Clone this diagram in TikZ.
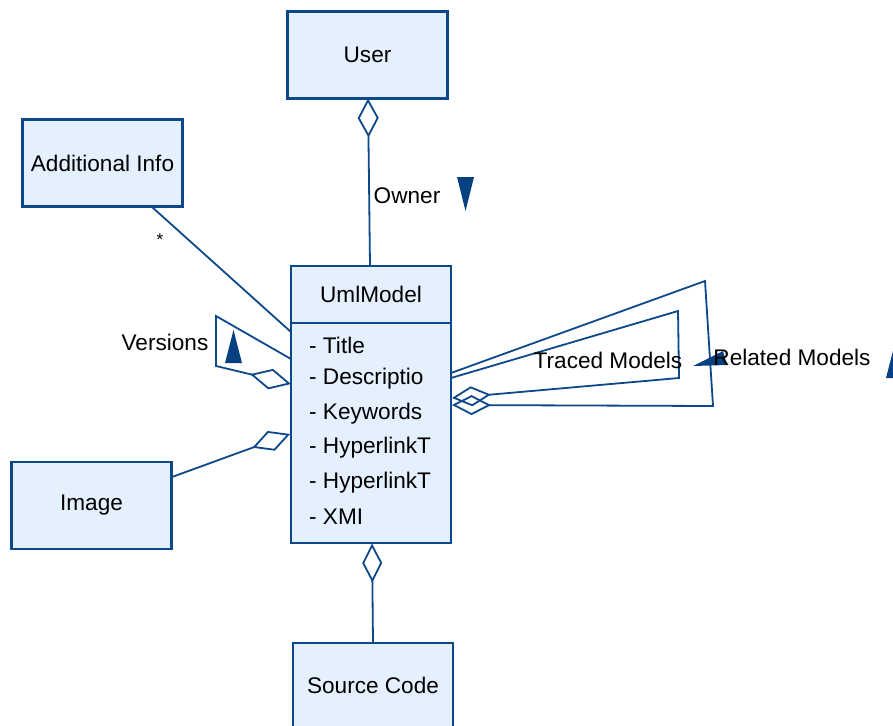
\documentclass[tikz,border=0pt]{standalone}
\usepackage{fontspec}
\setmainfont{Liberation Sans}
\usetikzlibrary{arrows.meta}
\definecolor{umlline}{RGB}{12,72,138}
\definecolor{umlfill}{RGB}{228,240,254}
\definecolor{umltri}{RGB}{6,64,128}
\tikzset{
  classbox/.style={draw=umlline, fill=umlfill, line width=2.2pt, minimum width=160pt,
    minimum height=87pt, inner sep=0pt, font=\fontsize{22.6}{26}\selectfont},
  link/.style={draw=umlline, line width=1.8pt, line join=miter},
  agg/.style={link, {Diamond[open,length=40pt,width=21pt,line width=1.8pt]}-},
  lbl/.style={font=\fontsize{22.6}{26}\selectfont, inner sep=0pt},
  attr/.style={lbl, anchor=west},
  navtri/.style={fill=umltri, draw=none}
}
\begin{document}
\begin{tikzpicture}[x=1pt, y=-1pt]
\useasboundingbox (0,0) rectangle (893,725);
\clip (0,0) rectangle (893,725);

% classes
\node[classbox] (user) at (367.5,55) {User};
\node[classbox] (info) at (102.5,163) {Additional Info};
\node[classbox] (image) at (91.5,505.5) {Image};
\node[classbox, minimum height=90pt] (src) at (373,688) {};
\node[lbl] (srclbl) at (373,685) {Source Code};
\node[classbox, minimum height=277pt] (uml) at (371,404.5) {};
\draw[draw=umlline, line width=2.2pt] (uml.west |- 0,323) -- (uml.east |- 0,323);
\node[lbl] (umltitle) at (371,294) {UmlModel};

% attributes
\node[attr] (a1) at (309,345) {- Title};
\node[attr] (a2) at (309,379) {- Descriptio};
\node[attr] (a3) at (309,413.5) {- Keywords};
\node[attr] (a4) at (309,448) {- HyperlinkT};
\node[attr] (a5) at (309,482.5) {- HyperlinkT};
\node[attr] (a6) at (309,517) {- XMI};

% anchor points on the class borders
\coordinate (userB) at (368,98.5);
\coordinate (umlT) at (370,266);
\coordinate (umlBot) at (372,543.5);
\coordinate (srcT) at (373,643);
\coordinate (infoB) at (152,207);
\coordinate (umlAI) at (291,332);
\coordinate (umlV1) at (291,359);
\coordinate (umlV2) at (291,384);
\coordinate (umlImg) at (290,434);
\coordinate (imgR) at (172,477);
\coordinate (umlR1) at (451,373);
\coordinate (umlR2) at (451,378);
\coordinate (umlR3) at (452,398);
\coordinate (umlR4) at (452,405);

% bends of the self associations
\coordinate (v1) at (216,366);
\coordinate (v2) at (216,316);
\coordinate (t1) at (679,378);
\coordinate (t2) at (678,311);
\coordinate (r1) at (713,406);
\coordinate (r2) at (705,281);

% associations
\draw[agg, {Diamond[open,length=39pt,width=21pt,line width=1.8pt]}-] (userB) -- (umlT);
\draw[agg, {Diamond[open,length=39pt,width=20pt,line width=1.8pt]}-] (umlBot) -- (srcT);
\draw[link] (infoB) -- (umlAI);
\draw[agg] (umlImg) -- (imgR);
\draw[agg, {Diamond[open,length=42pt,width=21pt,line width=1.8pt]}-] (umlV2) -- (v1) -- (v2) -- (umlV1);
\draw[agg, {Diamond[open,length=39pt,width=20pt,line width=1.8pt]}-] (umlR3) -- (t1) -- (t2) -- (umlR2);
\draw[agg, {Diamond[open,length=39pt,width=20pt,line width=1.8pt]}-] (umlR4) -- (r1) -- (r2) -- (umlR1);

% navigation markers
\fill[navtri] (457,177) -- (474,177) -- (465.5,211) -- cycle;
\fill[navtri] (233.5,330) -- (242,363) -- (225,363) -- cycle;
\fill[navtri] (693,366) -- (723,351) -- (727,365) -- cycle;
\fill[navtri] (894.5,345) -- (903,378) -- (886,378) -- cycle;

% labels
\node[lbl] (owner) at (407,196) {Owner};
\node[lbl, font=\fontsize{17}{20}\selectfont] (mult) at (160,240) {*};
\node[lbl] (versions) at (165,342) {Versions};
\node[lbl] (traced) at (608,360) {Traced Models};
\node[lbl] (related) at (792,357) {Related Models};
\end{tikzpicture}
\end{document}
